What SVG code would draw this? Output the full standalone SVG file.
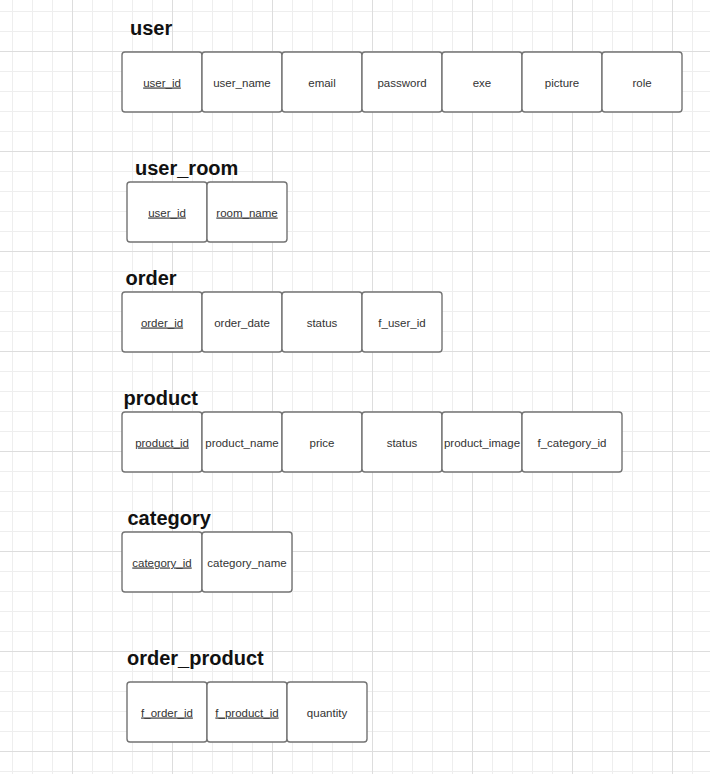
<svg xmlns="http://www.w3.org/2000/svg" width="710" height="774" viewBox="0 0 710 774">
<defs>
<pattern id="minor" patternUnits="userSpaceOnUse" x="0" y="0" width="20" height="20">
<path d="M12.5 0V20M0 11.5H20" stroke="#eeeeee" stroke-width="1" fill="none"/>
</pattern>
<pattern id="major" patternUnits="userSpaceOnUse" x="0" y="0" width="100" height="100">
<path d="M72.5 0V100M0 51.5H100" stroke="#dddddd" stroke-width="1" fill="none"/>
</pattern>
</defs>
<style>
.title{font-family:"Liberation Sans",Arial,sans-serif;font-weight:bold;font-size:20px;fill:#111}
.cell{fill:#fff;stroke:#737373;stroke-width:1.4}
.f{font-family:"Liberation Sans",Arial,sans-serif;font-size:11.5px;fill:#333;text-anchor:middle}
.k{text-decoration:underline}
</style>
<rect width="710" height="774" fill="#fff"/>
<rect width="710" height="774" fill="url(#minor)"/>
<rect width="710" height="774" fill="url(#major)"/>

<g id="user">
<text class="title" x="130" y="35">user</text>
<rect class="cell" x="122" y="52" width="80" height="60" rx="3"/>
<rect class="cell" x="202" y="52" width="80" height="60" rx="3"/>
<rect class="cell" x="282" y="52" width="80" height="60" rx="3"/>
<rect class="cell" x="362" y="52" width="80" height="60" rx="3"/>
<rect class="cell" x="442" y="52" width="80" height="60" rx="3"/>
<rect class="cell" x="522" y="52" width="80" height="60" rx="3"/>
<rect class="cell" x="602" y="52" width="80" height="60" rx="3"/>
<text class="f k" x="162" y="86.5">user_id</text>
<text class="f" x="242" y="86.5">user_name</text>
<text class="f" x="322" y="86.5">email</text>
<text class="f" x="402" y="86.5">password</text>
<text class="f" x="482" y="86.5">exe</text>
<text class="f" x="562" y="86.5">picture</text>
<text class="f" x="642" y="86.5">role</text>
</g>

<g id="user_room">
<text class="title" x="135" y="175">user_room</text>
<rect class="cell" x="127" y="182" width="80" height="60" rx="3"/>
<rect class="cell" x="207" y="182" width="80" height="60" rx="3"/>
<text class="f k" x="167" y="216.5">user_id</text>
<text class="f k" x="247" y="216.5">room_name</text>
</g>

<g id="order">
<text class="title" x="125.5" y="285">order</text>
<rect class="cell" x="122" y="292" width="80" height="60" rx="3"/>
<rect class="cell" x="202" y="292" width="80" height="60" rx="3"/>
<rect class="cell" x="282" y="292" width="80" height="60" rx="3"/>
<rect class="cell" x="362" y="292" width="80" height="60" rx="3"/>
<text class="f k" x="162" y="326.5">order_id</text>
<text class="f" x="242" y="326.5">order_date</text>
<text class="f" x="322" y="326.5">status</text>
<text class="f" x="402" y="326.5">f_user_id</text>
</g>

<g id="product">
<text class="title" x="123.5" y="404.5">product</text>
<rect class="cell" x="122" y="412" width="80" height="60" rx="3"/>
<rect class="cell" x="202" y="412" width="80" height="60" rx="3"/>
<rect class="cell" x="282" y="412" width="80" height="60" rx="3"/>
<rect class="cell" x="362" y="412" width="80" height="60" rx="3"/>
<rect class="cell" x="442" y="412" width="80" height="60" rx="3"/>
<rect class="cell" x="522" y="412" width="100" height="60" rx="3"/>
<text class="f k" x="162" y="446.5">product_id</text>
<text class="f" x="242" y="446.5">product_name</text>
<text class="f" x="322" y="446.5">price</text>
<text class="f" x="402" y="446.5">status</text>
<text class="f" x="482" y="446.5">product_image</text>
<text class="f" x="572" y="446.5">f_category_id</text>
</g>

<g id="category">
<text class="title" x="127.5" y="525">category</text>
<rect class="cell" x="122" y="532" width="80" height="60" rx="3"/>
<rect class="cell" x="202" y="532" width="90" height="60" rx="3"/>
<text class="f k" x="162" y="566.5">category_id</text>
<text class="f" x="247" y="566.5">category_name</text>
</g>

<g id="order_product">
<text class="title" x="127" y="664.5">order_product</text>
<rect class="cell" x="127" y="682" width="80" height="60" rx="3"/>
<rect class="cell" x="207" y="682" width="80" height="60" rx="3"/>
<rect class="cell" x="287" y="682" width="80" height="60" rx="3"/>
<text class="f k" x="167" y="716.5">f_order_id</text>
<text class="f k" x="247" y="716.5">f_product_id</text>
<text class="f" x="327" y="716.5">quantity</text>
</g>

<g id="connectors"></g>
</svg>
